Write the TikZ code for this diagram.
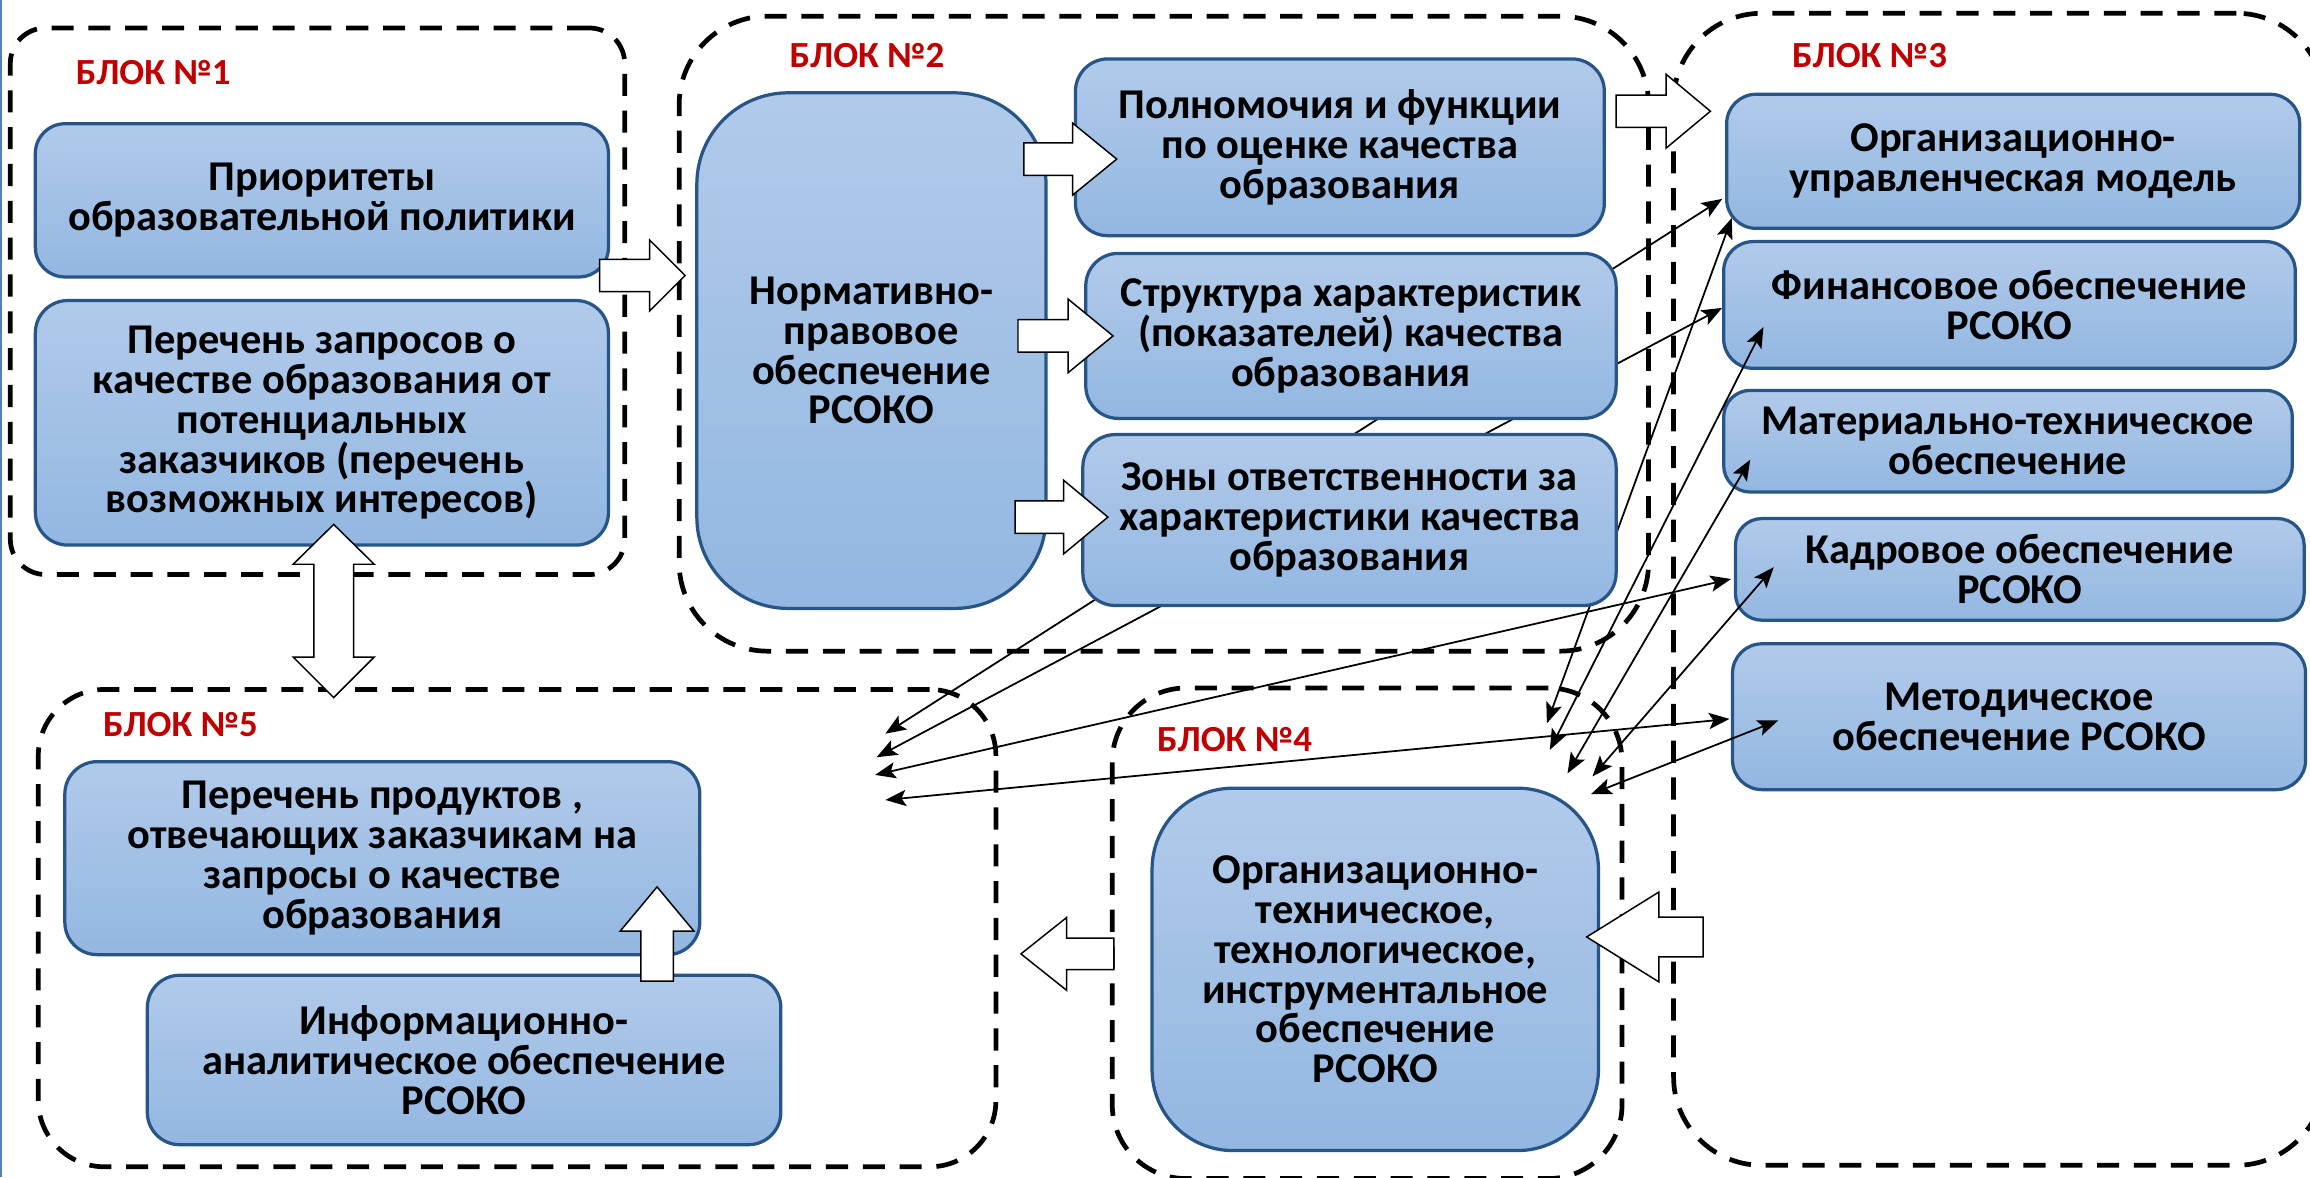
\documentclass[tikz,border=0pt]{standalone}
\usepackage{fontspec}
\setmainfont{Carlito}
\usetikzlibrary{arrows.meta}
\definecolor{boxtop}{RGB}{177,202,234}
\definecolor{boxbot}{RGB}{147,183,225}
\definecolor{boxline}{RGB}{40,85,135}
\definecolor{lblred}{RGB}{192,0,0}
\definecolor{edgeblue}{RGB}{79,129,189}
\begin{document}
\begin{tikzpicture}[x=1pt,y=-1pt,
  box/.style={draw=boxline, line width=2.2pt, top color=boxtop, bottom color=boxbot,
    align=center, inner sep=0pt, font=\bfseries\fontsize{28.8}{27}\selectfont},
  frame/.style={draw=black, line width=3.2pt, dash pattern=on 15pt off 10pt, inner sep=0pt},
  lbl/.style={text=lblred, font=\bfseries\fontsize{25}{27}\selectfont, inner sep=0pt},
  fat/.style={draw=black, fill=white, line width=1pt, line join=miter},
  link/.style={line width=1.2pt, {Stealth[length=14pt,width=11pt,inset=3pt]}-{Stealth[length=14pt,width=11pt,inset=3pt]}}
]
\useasboundingbox (0,0) rectangle (1568,799);
\clip (0,0) rectangle (1568,799);
\fill[white] (0,0) rectangle (1568,799);
\draw[edgeblue, line width=1.5pt] (0.7,0) -- (0.7,799);

% dashed block frames
\node[frame, rounded corners=24pt, minimum width=417pt, minimum height=371pt] (blk1) at (215.5,204.5) {};
\node[frame, rounded corners=60pt, minimum width=658pt, minimum height=431pt] (blk2) at (790,226.5) {};
\node[frame, rounded corners=60pt, minimum width=442pt, minimum height=782pt] (blk3) at (1357,400) {};
\node[frame, rounded corners=50pt, minimum width=346pt, minimum height=333pt] (blk4) at (928,633.5) {};
\node[frame, rounded corners=45pt, minimum width=650pt, minimum height=324pt] (blk5) at (351,630) {};

% block 3 boxes
\node[box, rounded corners=20pt, minimum width=389pt, minimum height=91pt] (org) at (1366.5,109.5) {Организационно-\\управленческая модель};
\node[box, rounded corners=20pt, minimum width=388pt, minimum height=86pt] (fin) at (1364,207) {Финансовое обеспечение\\РСОКО};
\node[box, rounded corners=18pt, minimum width=386pt, minimum height=69pt] (mat) at (1363,299.5) {Материально-техническое\\обеспечение};
\node[box, rounded corners=18pt, minimum width=386pt, minimum height=69pt] (kad) at (1371,386.5) {Кадровое обеспечение\\РСОКО};
\node[box, rounded corners=20pt, minimum width=389pt, minimum height=99pt] (met) at (1370.5,486.5) {Методическое\\обеспечение РСОКО};

% thin connectors
\coordinate (t1s) at (601,498);  \coordinate (t1e) at (1169,135);
\coordinate (t2s) at (595,514);  \coordinate (t2e) at (1169,209);
\coordinate (t3s) at (594,526);  \coordinate (t3e) at (1175,393);
\coordinate (t4s) at (601,543);  \coordinate (t4e) at (1174,488);
\coordinate (t5s) at (1050,491); \coordinate (t5e) at (1175.5,148);
\coordinate (t6s) at (1052,509); \coordinate (t6e) at (1197,222);
\coordinate (t7s) at (1064,525); \coordinate (t7e) at (1188,312);
\coordinate (t8s) at (1081,527); \coordinate (t8e) at (1204,385);
\coordinate (t9s) at (1080,539); \coordinate (t9e) at (1207,489);
\foreach \i in {1,...,9} { \draw[link] (t\i s) -- (t\i e); }

% block 1 boxes
\node[box, rounded corners=20pt, minimum width=389pt, minimum height=104pt] (prio) at (218.5,136) {Приоритеты\\образовательной политики};
\node[box, rounded corners=22pt, minimum width=389pt, minimum height=166pt] (zapr) at (218.5,287) {Перечень запросов о\\качестве образования от\\потенциальных\\заказчиков (перечень\\возможных интересов)};

% block 2 boxes
\node[box, rounded corners=62pt, minimum width=237pt, minimum height=350pt] (norm) at (591.5,238) {Нормативно-\\правовое\\обеспечение\\РСОКО};
\node[box, rounded corners=22pt, minimum width=359pt, minimum height=120pt] (poln) at (909.5,100) {Полномочия и функции\\по оценке качества\\образования};
\node[box, rounded corners=22pt, minimum width=360pt, minimum height=112pt] (strk) at (917,228) {Структура характеристик\\(показателей) качества\\образования};
\node[box, rounded corners=22pt, minimum width=362pt, minimum height=116pt] (zony) at (916,353) {Зоны ответственности за\\характеристики качества\\образования};

% block 4 box
\node[box, rounded corners=55pt, minimum width=303pt, minimum height=246pt] (tech) at (933.5,658) {Организационно-\\техническое,\\технологическое,\\инструментальное\\обеспечение\\РСОКО};

% block 5 boxes
\node[box, rounded corners=22pt, minimum width=431pt, minimum height=131pt] (prod) at (259.5,582.5) {Перечень продуктов ,\\отвечающих заказчикам на\\запросы о качестве\\образования};
\node[box, rounded corners=22pt, minimum width=430pt, minimum height=115pt] (info) at (315,719.5) {Информационно-\\аналитическое обеспечение\\РСОКО};

% block arrows
\draw[fat] (407,176) -- (441,176) -- (441,163) -- (465,187) -- (441,211) -- (441,198) -- (407,198) -- cycle;
\draw[fat] (695,97) -- (728,97) -- (728,83.5) -- (758,108) -- (728,132.5) -- (728,119) -- (695,119) -- cycle;
\draw[fat] (691,217) -- (725,217) -- (725,203) -- (755.5,228) -- (725,253) -- (725,239) -- (691,239) -- cycle;
\draw[fat] (689,340) -- (722,340) -- (722,326) -- (752,351) -- (722,376) -- (722,362) -- (689,362) -- cycle;
\draw[fat] (1097,64.5) -- (1131,64.5) -- (1131,50.5) -- (1161,75.5) -- (1131,100.5) -- (1131,86.5) -- (1097,86.5) -- cycle;
\draw[fat] (226.5,356) -- (254,383) -- (240,383) -- (240,446) -- (254,446) -- (226.5,473.5) -- (199,446) -- (213,446) -- (213,383) -- (199,383) -- cycle;
\draw[fat] (446,602) -- (471,632) -- (457,632) -- (457,666) -- (435,666) -- (435,632) -- (421,632) -- cycle;
\draw[fat] (693,647.5) -- (724,622.8) -- (724,636.8) -- (756,636.8) -- (756,658.2) -- (724,658.2) -- (724,672.2) -- cycle;
\draw[fat] (1077,636) -- (1126,605.5) -- (1126,622.5) -- (1156,622.5) -- (1156,649.5) -- (1126,649.5) -- (1126,666.5) -- cycle;

% labels
\node[lbl] (l1) at (104,49.5) {БЛОК №1};
\node[lbl] (l2) at (588.5,37.5) {БЛОК №2};
\node[lbl] (l3) at (1269,38) {БЛОК №3};
\node[lbl] (l4) at (838,502) {БЛОК №4};
\node[lbl] (l5) at (122.5,491.5) {БЛОК №5};
\end{tikzpicture}
\end{document}
